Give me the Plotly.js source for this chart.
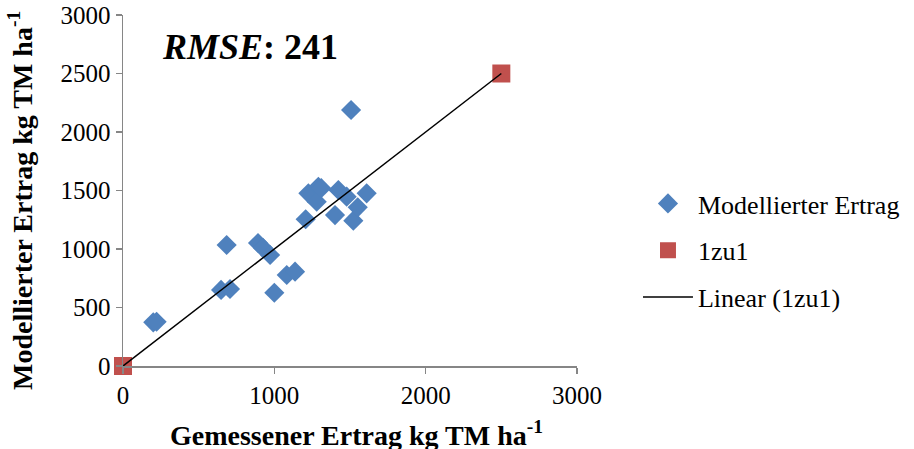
<!DOCTYPE html>
<html>
<head>
<meta charset="utf-8">
<script src="https://cdn.plot.ly/plotly-3.0.1.min.js"></script>
<style>html,body{margin:0;padding:0;background:#fff;}#chart{width:914px;height:449px;}</style>
</head>
<body>
<div id="chart"></div>
<script>
// Gemessener Ertrag (x) vs. Modellierter Ertrag (y), kg TM ha-1
const measured = [1507, 200, 222, 648, 707, 1000, 685, 892, 925, 972, 1082, 1137, 1207, 1401, 1522, 1551, 1610, 1423, 1478, 1225, 1291, 1280, 1310];
const modelled = [2188, 373, 378, 650, 658, 626, 1034, 1051, 1009, 949, 778, 806, 1254, 1290, 1242, 1356, 1476, 1504, 1447, 1476, 1532, 1404, 1520];
const oneToOneX = [0, 2500];
const oneToOneY = [0, 2500];
const rmseValue = 241;
const xTicks = [0, 1000, 2000, 3000];
const yTicks = [0, 500, 1000, 1500, 2000, 2500, 3000];
const xTitle = 'Gemessener Ertrag kg TM ha<sup>-1</sup>';
const yTitle = 'Modellierter Ertrag kg TM ha<sup>-1</sup>';

// linear trend of the 1zu1 series (least squares)
function linFit(xs, ys) {
  const n = xs.length;
  const mx = xs.reduce((a, b) => a + b, 0) / n;
  const my = ys.reduce((a, b) => a + b, 0) / n;
  let sxy = 0, sxx = 0;
  for (let i = 0; i < n; i++) { sxy += (xs[i] - mx) * (ys[i] - my); sxx += (xs[i] - mx) ** 2; }
  const b = sxy / sxx;
  return { a: my - b * mx, b: b };
}
const fit = linFit(oneToOneX, oneToOneY);
const trendX = [Math.min(...oneToOneX), Math.max(...oneToOneX)];
const trendY = trendX.map(v => fit.a + fit.b * v);

const serif = '"Liberation Serif", "Times New Roman", Times, serif';

const traces = [
  {
    x: measured, y: modelled, type: 'scatter', mode: 'markers', name: 'Modellierter Ertrag',
    legendgroup: 'a', cliponaxis: false,
    marker: { symbol: 'diamond', size: 15.5, color: '#4F81BD', line: { width: 0 } }
  },
  {
    x: oneToOneX, y: oneToOneY, type: 'scatter', mode: 'markers', name: '1zu1',
    legendgroup: 'b', cliponaxis: false,
    marker: { symbol: 'square', size: 18, color: '#C0504D', line: { width: 0 } }
  },
  {
    x: trendX, y: trendY, type: 'scatter', mode: 'lines', name: 'Linear (1zu1)',
    legendgroup: 'c', cliponaxis: false,
    line: { color: '#000000', width: 1.5 }
  }
];

const layout = {
  width: 914, height: 449,
  margin: { l: 123, r: 337, t: 15, b: 83, autoexpand: false },
  paper_bgcolor: '#ffffff', plot_bgcolor: '#ffffff',
  font: { family: serif, size: 25, color: '#000000' },
  showlegend: true,
  legend: {
    xref: 'container', yref: 'container',
    x: 0.698, y: 0.442, xanchor: 'left', yanchor: 'middle',
    font: { family: serif, size: 26, color: '#000' },
    traceorder: 'grouped', tracegroupgap: 10, itemwidth: 50,
    bgcolor: 'rgba(0,0,0,0)'
  },
  xaxis: {
    range: [0, 3000], tickvals: xTicks, ticktext: xTicks.map(String),
    showgrid: false, zeroline: false, showline: true, linecolor: '#868686', linewidth: 1.5,
    ticks: 'outside', ticklen: 6, tickcolor: '#868686', tickwidth: 1.5,
    tickfont: { family: serif, size: 25, color: '#000' }
  },
  yaxis: {
    range: [0, 3000], tickvals: yTicks, ticktext: yTicks.map(String),
    showgrid: false, zeroline: false, showline: true, linecolor: '#868686', linewidth: 1.5,
    ticks: 'outside', ticklen: 6, tickcolor: '#868686', tickwidth: 1.5,
    tickfont: { family: serif, size: 25, color: '#000' }
  },
  annotations: [
    {
      xref: 'paper', yref: 'paper', x: 0.081, y: 0.91, xanchor: 'left', yanchor: 'middle',
      text: '<b><i>RMSE</i>: ' + rmseValue + '</b>', showarrow: false,
      font: { family: serif, size: 36, color: '#000' }
    },
    {
      xref: 'paper', yref: 'paper', x: 0.515, y: -0.192,
      xanchor: 'center', yanchor: 'middle', showarrow: false,
      text: '<b>' + xTitle + '</b>', font: { family: serif, size: 28, color: '#000' }
    },
    {
      xref: 'paper', yref: 'paper', x: -0.2247, y: 0.473,
      xanchor: 'center', yanchor: 'middle', showarrow: false, textangle: -90,
      text: '<b>' + yTitle + '</b>', font: { family: serif, size: 28, color: '#000' }
    }
  ]
};

Plotly.newPlot('chart', traces, layout, { displayModeBar: false, staticPlot: true });
</script>
</body>
</html>
